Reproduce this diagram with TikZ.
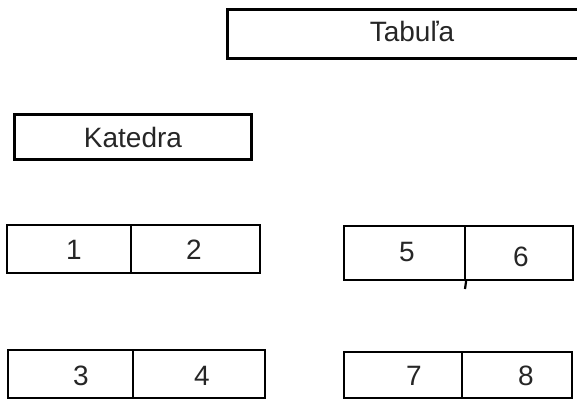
\documentclass[tikz,border=0pt]{standalone}
\usepackage{fontspec}
\setmainfont{Liberation Sans}
\begin{document}
\begin{tikzpicture}[x=1pt,y=-1pt,
  box/.style={draw=black,line width=2.2pt,rectangle,inner sep=0pt},
  board/.style={draw=black,line width=3pt,rectangle,inner sep=0pt},
  lbl/.style={anchor=base,inner sep=0pt,text=black!85,font=\fontsize{28}{32}\selectfont}]
\useasboundingbox (0,0) rectangle (577,400);
% blackboard (runs past the right edge)
\node[board,minimum width=374pt,minimum height=49pt] (board) at (414,33.5) {};
\node[lbl] (tboard) at (412,41) {Tabuľa};
% teacher's desk
\node[box,minimum width=237pt,minimum height=45pt] (desk) at (133,137) {};
\node[lbl] (tdesk) at (133,147) {Katedra};
% pupils' desks: two seats each
\node[box,minimum width=124pt,minimum height=48pt] (c1) at (69,249) {};
\node[box,minimum width=129pt,minimum height=48pt] (c2) at (195.5,249) {};
\node[box,minimum width=125pt,minimum height=48pt] (c3) at (70.5,374) {};
\node[box,minimum width=132pt,minimum height=48pt] (c4) at (199,374) {};
\node[box,minimum width=121pt,minimum height=54pt] (c5) at (404.5,253) {};
\node[box,minimum width=108pt,minimum height=54pt] (c6) at (519,253) {};
\node[box,minimum width=118pt,minimum height=46pt] (c7) at (403,375) {};
\node[box,minimum width=110pt,minimum height=46pt] (c8) at (517,375) {};
% seat divider sticking out under desk 5/6
\coordinate (tail) at (465,289);
\draw[line width=2.2pt] (c5.south east) -- (tail);
\node[lbl] (t1) at (74,259) {1};
\node[lbl] (t2) at (194,259) {2};
\node[lbl] (t3) at (81,385) {3};
\node[lbl] (t4) at (202,385) {4};
\node[lbl] (t5) at (407,261) {5};
\node[lbl] (t6) at (521,266) {6};
\node[lbl] (t7) at (414,385) {7};
\node[lbl] (t8) at (526,385) {8};
\end{tikzpicture}
\end{document}
